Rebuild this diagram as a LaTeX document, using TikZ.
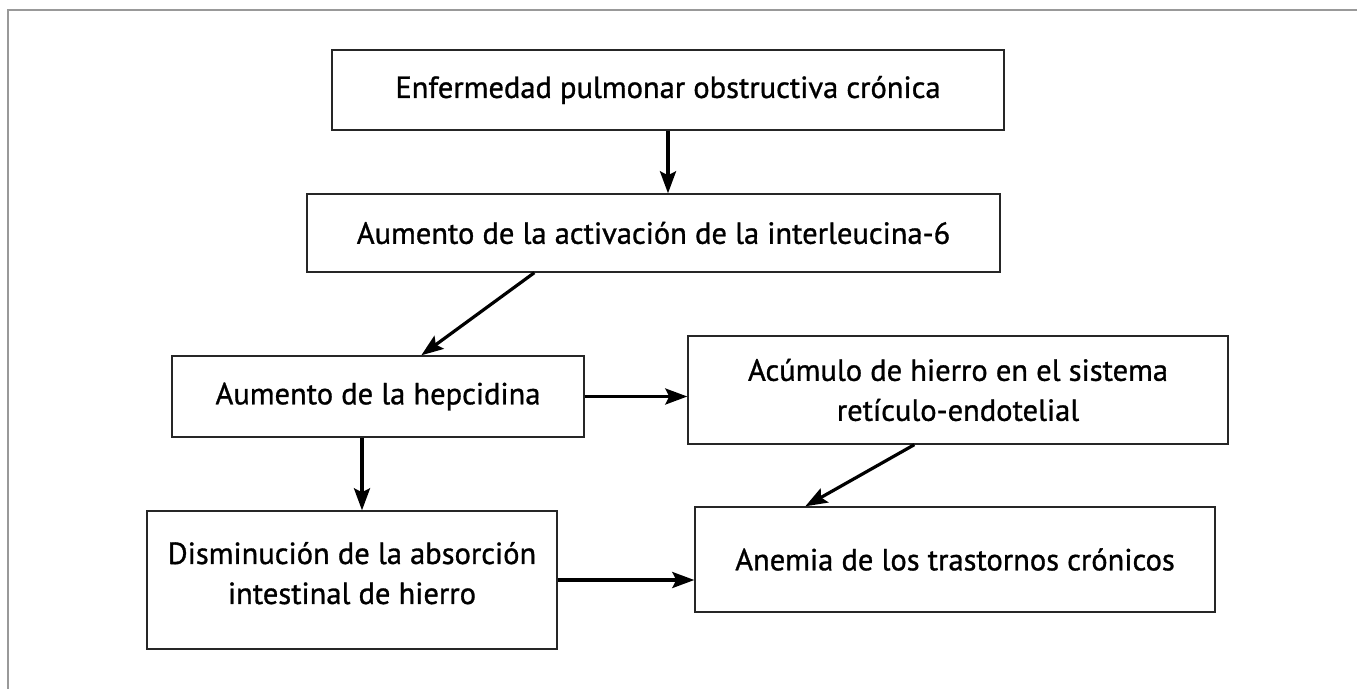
\documentclass[tikz,border=0pt]{standalone}
\usepackage{fontspec}
\setmainfont{PT Sans}
\newfontfamily\boxfont{PT Sans}[FakeBold=1]
\usetikzlibrary{arrows.meta,calc}
\begin{document}
\begin{tikzpicture}[x=1pt,y=-1pt,
  box/.style={draw=black!85,line width=1.4pt,rectangle,inner sep=0pt,align=center,
    font={\boxfont\fontsize{30.5}{40}\selectfont}},
  arr/.style={draw=black,line width=3.2pt,-{Stealth[length=22pt,width=16pt,inset=4pt]}},
  frame/.style={draw=black!40,line width=2pt}]
\useasboundingbox (0,0) rectangle (1357,689);
\draw[frame] (1357,10) -- (8,10) -- (8,689);
\node[box,minimum width=672pt,minimum height=80pt] (b1) at (668,90) {Enfermedad pulmonar obstructiva crónica};
\node[box,minimum width=693pt,minimum height=78pt] (b2) at (653.5,233) {Aumento de la activación de la interleucina-6};
\node[box,minimum width=412pt,minimum height=81pt] (b3) at (378,396.5) {Aumento de la hepcidina};
\node[box,minimum width=540pt,minimum height=108pt] (b4) at (958,390) {Acúmulo de hierro en el sistema\\retículo-endotelial};
\node[box,minimum width=410pt,minimum height=138pt] (b5) at (352,580) {Disminución de la absorción\\intestinal de hierro\rule[-14pt]{0pt}{1pt}};
\node[box,minimum width=520pt,minimum height=105pt] (b6) at (955,559.5) {Anemia de los trastornos crónicos};
\coordinate (a2s) at ($(b2.south west)+(228,0)$);
\coordinate (a2e) at ($(b3.north west)+(250,0)$);
\coordinate (a5s) at ($(b3.south)+(-16,0)$);
\coordinate (a4s) at ($(b4.south west)+(227,0)$);
\coordinate (a4e) at ($(b6.north west)+(111,0)$);
\draw[arr] (b1.south) -- (b1.south |- b2.north);
\draw[arr] (a2s) -- (a2e);
\draw[arr] (b3.east) -- (b3.east -| b4.west);
\draw[arr] (a5s) -- (a5s |- b5.north);
\draw[arr] (a4s) -- (a4e);
\draw[arr] (b5.east) -- (b5.east -| b6.west);
\end{tikzpicture}
\end{document}
